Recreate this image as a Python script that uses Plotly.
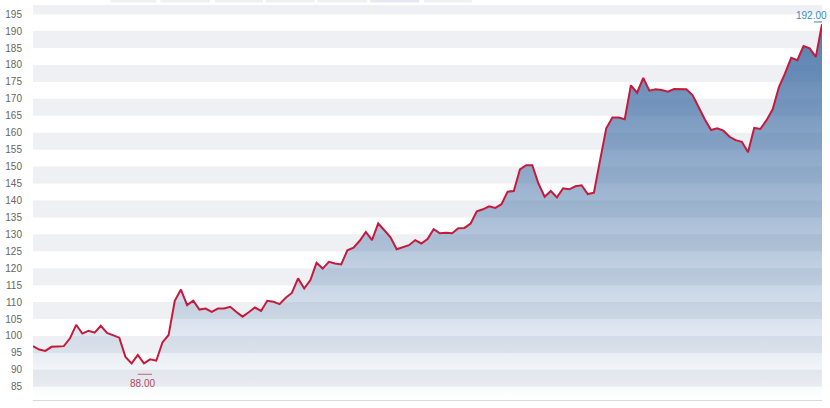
import plotly.graph_objects as go

# ---- data ----
values = [
    97.0, 96.0, 95.6, 96.8, 96.9, 97.0, 99.3, 103.3, 100.7, 101.5,
    101.0, 103.0, 100.9, 100.3, 99.5, 93.8, 91.9, 94.4, 91.9, 93.1,
    92.7, 98.1, 100.3, 110.4, 113.7, 109.1, 110.4, 107.8, 108.1, 107.1,
    108.1, 108.1, 108.6, 107.1, 105.7, 107.0, 108.4, 107.4, 110.4, 110.1,
    109.4, 111.3, 112.7, 117.0, 114.0, 116.5, 121.6, 119.9, 121.9, 121.4,
    121.1, 125.3, 126.1, 128.1, 130.7, 128.3, 133.2, 131.2, 129.1, 125.6,
    126.1, 126.8, 128.3, 127.3, 128.6, 131.5, 130.3, 130.5, 130.3, 131.8,
    131.9, 133.2, 136.8, 137.4, 138.3, 137.8, 138.9, 142.6, 142.8, 149.2,
    150.4, 150.4, 145.0, 141.1, 142.8, 140.9, 143.6, 143.3, 144.2, 144.5,
    141.9, 142.3, 151.9, 161.3, 164.5, 164.5, 164.0, 174.0, 171.8, 176.2,
    172.4, 172.8, 172.6, 172.1, 172.9, 172.8, 172.8, 171.1, 167.3, 163.9,
    160.8, 161.3, 160.6, 158.8, 157.8, 157.3, 154.2, 161.4, 161.1, 163.7,
    166.9, 173.4, 177.5, 182.1, 181.4, 185.6, 184.9, 182.4, 192.0,
]
x_index = list(range(len(values)))

y_ticks = [85, 90, 95, 100, 105, 110, 115, 120, 125, 130, 135, 140, 145,
           150, 155, 160, 165, 170, 175, 180, 185, 190, 195]
band_starts = [85, 95, 105, 115, 125, 135, 145, 155, 165, 175, 185, 195]
band_width = 5
y_range = [81.1, 197.7]

max_label_value = 192.00
max_label_index = len(values) - 1
min_label_value = 88.00
min_label_index = 18

# range-selector remnants at the very top (pixel x spans)
button_spans = [(107, 153), (157, 207), (212, 260), (263, 312),
                (315, 365), (368, 417), (422, 470)]
active_button = 5

# ---- figure ----
W, H = 830, 408
ML, MR, MT, MB = 29, 8, 5, 8
plot_w = W - ML - MR
plot_h = H - MT - MB

fig = go.Figure()

fig.add_trace(go.Scatter(
    x=x_index, y=values, mode="lines",
    line=dict(color="#c41a3d", width=2),
    fill="tozeroy",
    fillgradient=dict(
        type="vertical",
        start=y_range[0], stop=y_range[1],
        colorscale=[[0.0, "rgba(69,114,167,0.0)"],
                    [0.35, "rgba(69,114,167,0.35)"],
                    [1.0, "rgba(69,114,167,0.97)"]],
    ),
    hoverinfo="skip", showlegend=False,
))

shapes = []
for b in band_starts:
    shapes.append(dict(type="rect", xref="paper", yref="y", x0=0, x1=1,
                       y0=b, y1=min(b + band_width, y_range[1]),
                       fillcolor="#eef0f3", line=dict(width=0), layer="below"))

# flag marker lines
shapes.append(dict(type="line", xref="x", yref="y",
                   x0=max_label_index - 1.3, x1=max_label_index + 0.1,
                   y0=max_label_value + 0.7, y1=max_label_value + 0.7,
                   line=dict(color="#3b7fae", width=1)))
shapes.append(dict(type="line", xref="x", yref="y",
                   x0=min_label_index - 1.0, x1=min_label_index + 1.3,
                   y0=min_label_value + 0.7, y1=min_label_value + 0.7,
                   line=dict(color="#c0607a", width=1)))

# top button remnants
for i, (a, b) in enumerate(button_spans):
    shapes.append(dict(type="rect", xref="paper", yref="paper",
                       x0=(a - ML) / plot_w, x1=(b - ML) / plot_w,
                       y0=1 + 2.5 / plot_h, y1=1 + MT / plot_h,
                       fillcolor="#e4eaf4" if i == active_button else "#f0f0f0",
                       line=dict(width=0)))

annotations = [
    dict(x=max_label_index, y=max_label_value, xref="x", yref="y",
         text=f"{max_label_value:.2f}", showarrow=False,
         xanchor="right", yanchor="bottom", xshift=7, yshift=1,
         font=dict(size=10, color="#3a8cc4", family="Liberation Sans, Arial")),
    dict(x=min_label_index, y=min_label_value, xref="x", yref="y",
         text=f"{min_label_value:.2f}", showarrow=False,
         xanchor="center", yanchor="top", xshift=-1, yshift=1,
         font=dict(size=10, color="#b04a63", family="Liberation Sans, Arial")),
]

fig.update_layout(
    width=W, height=H,
    margin=dict(l=ML, r=MR, t=MT, b=MB, pad=0),
    paper_bgcolor="white", plot_bgcolor="white",
    shapes=shapes, annotations=annotations,
    font=dict(family="Liberation Sans, Arial", size=10, color="#666666"),
    xaxis=dict(range=[0, len(values) - 1], showgrid=False, zeroline=False,
               showticklabels=False, ticks="", showline=True,
               linecolor="#d9d9d9", linewidth=1),
    yaxis=dict(range=y_range, tickvals=y_ticks, showgrid=False,
               zeroline=False, showline=False, ticks="",
               ticklabelstandoff=10,
               tickfont=dict(size=10, color="#666666")),
)

fig.write_html("out.html",
               config={"displayModeBar": False},
               post_script="document.body.style.margin='0';"
                           "document.body.style.overflow='hidden';")
